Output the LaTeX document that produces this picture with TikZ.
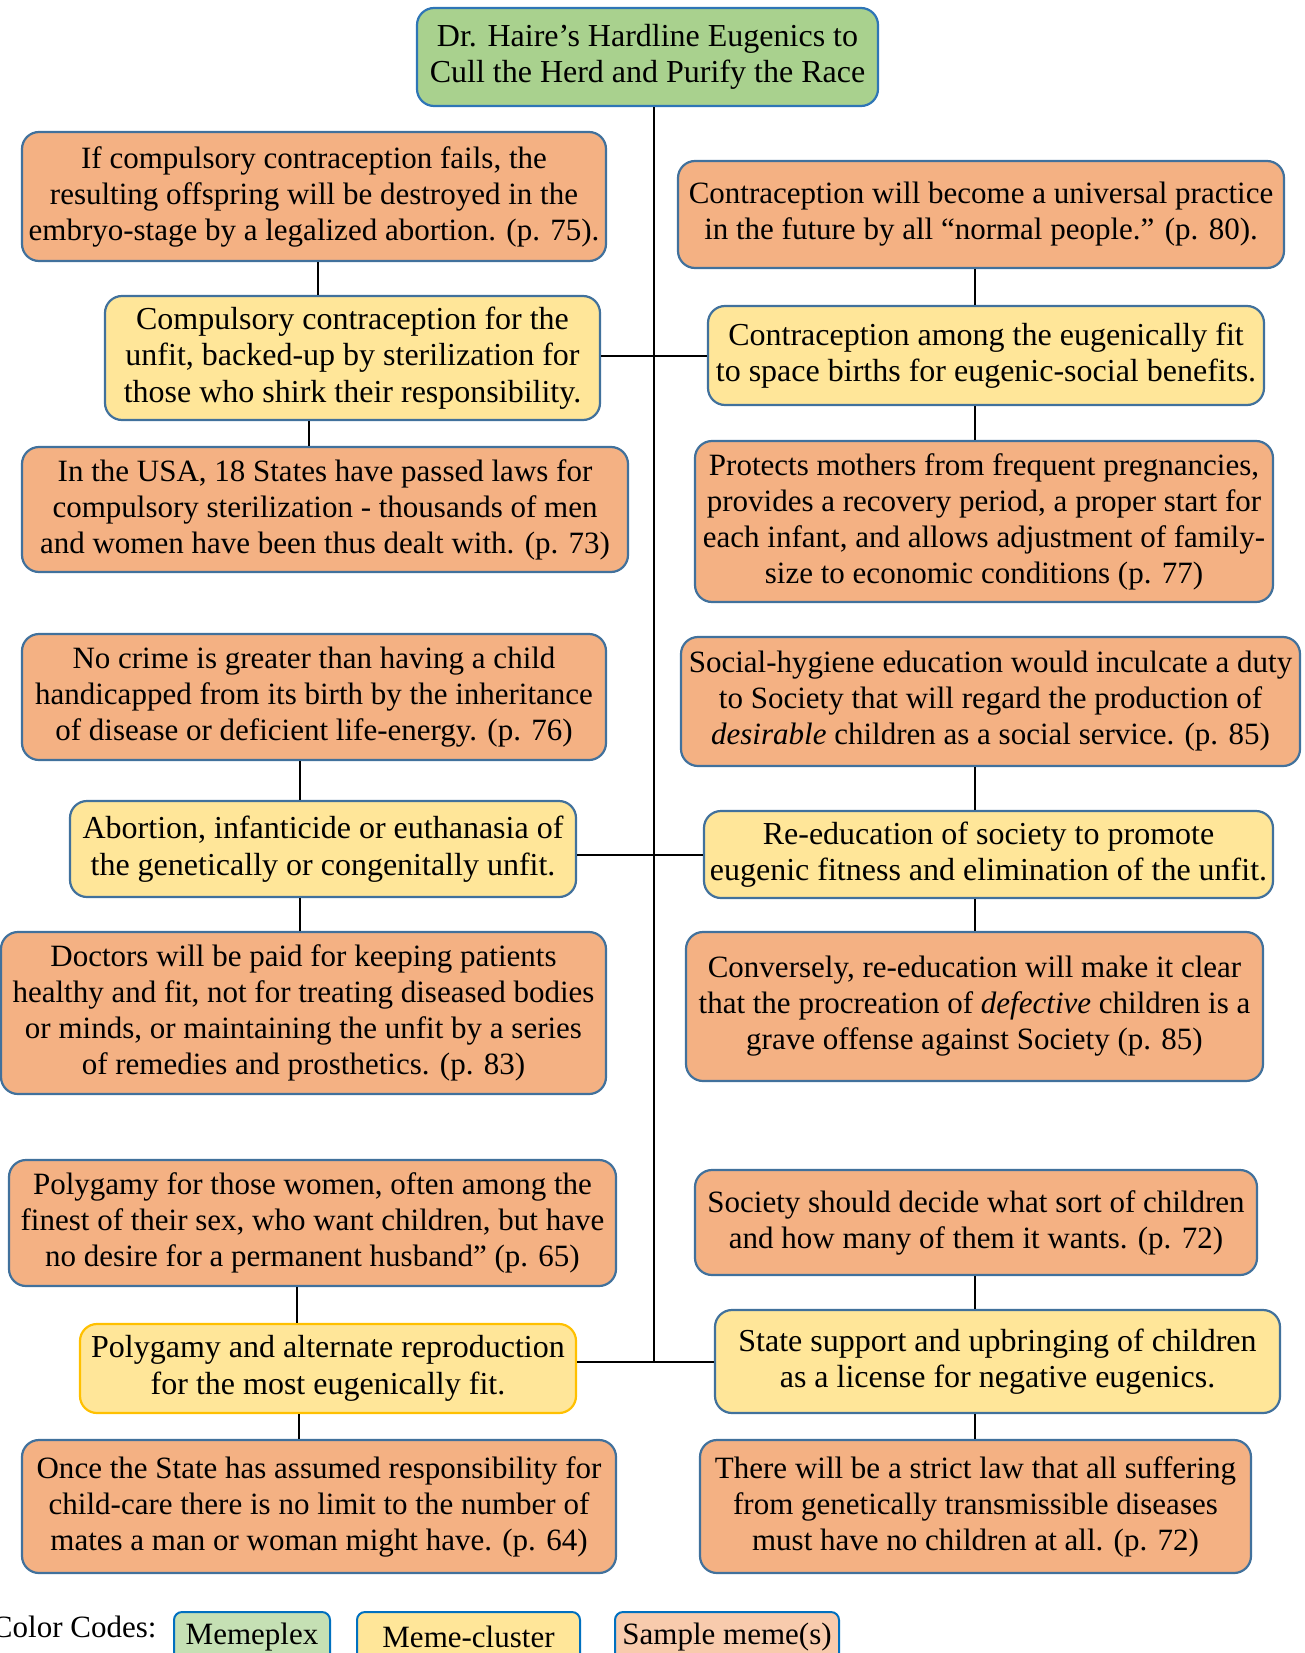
\documentclass[tikz,border=0pt]{standalone}
\usepackage{fontspec}
\setmainfont{Liberation Serif}
\definecolor{plexfill}{HTML}{A9D18E}
\definecolor{clusterfill}{HTML}{FFE699}
\definecolor{memefill}{HTML}{F4B183}
\definecolor{edgeblue}{HTML}{41719C}
\definecolor{plexedge}{HTML}{2E75B6}
\definecolor{goldedge}{HTML}{FFC000}
\definecolor{keyblue}{HTML}{0070C0}
\definecolor{keygreen}{HTML}{C5E0B4}
\definecolor{keymeme}{HTML}{F8CBAD}
\tikzset{
  box/.style={draw=edgeblue, line width=2.2pt, rounded corners=17pt, align=center,
    inner sep=0pt},
  plex/.style={box, fill=plexfill, draw=plexedge, font=\fontsize{32}{36.5}\selectfont},
  cluster/.style={box, fill=clusterfill, font=\fontsize{32}{36.5}\selectfont},
  meme/.style={box, fill=memefill, font=\fontsize{31}{36}\selectfont},
  keybox/.style={draw=keyblue, line width=2pt, rounded corners=8pt, inner sep=0pt,
    font=\fontsize{31}{34}\selectfont},
  link/.style={line width=2pt, black},
}
\begin{document}
\begin{tikzpicture}[x=1pt, y=-1pt]
\useasboundingbox (0,0) rectangle (1304,1653);

% memeplex
\node[plex, minimum width=461pt, minimum height=98pt] (top) at (647.5,57)
  {Dr. Haire’s Hardline Eugenics to\\Cull the Herd and Purify the Race};

% left column
\node[meme, minimum width=584pt, minimum height=129pt] (L1) at (314,196.5)
  {If compulsory contraception fails, the\\resulting offspring will be destroyed in the\\embryo-stage by a legalized abortion. (p. 75).};
\node[cluster, minimum width=495pt, minimum height=124pt] (L2) at (352.5,358)
  {Compulsory contraception for the\\unfit, backed-up by sterilization for\\those who shirk their responsibility.};
\node[meme, minimum width=606pt, minimum height=125pt] (L3) at (325,509.5)
  {In the USA, 18 States have passed laws for\\compulsory sterilization - thousands of men\\and women have been thus dealt with. (p. 73)};
\node[meme, minimum width=584pt, minimum height=126pt] (L4) at (314,697)
  {No crime is greater than having a child\\handicapped from its birth by the inheritance\\of disease or deficient life-energy. (p. 76)};
\node[cluster, minimum width=506pt, minimum height=96pt] (L5) at (323,849)
  {Abortion, infanticide or euthanasia of\\the genetically or congenitally unfit.};
\node[meme, minimum width=605pt, minimum height=162pt] (L6) at (303.5,1013)
  {Doctors will be paid for keeping patients\\healthy and fit, not for treating diseased bodies\\or minds, or maintaining the unfit by a series\\of remedies and prosthetics. (p. 83)};
\node[meme, minimum width=607pt, minimum height=126pt] (L7) at (312.5,1223)
  {Polygamy for those women, often among the\\finest of their sex, who want children, but have\\no desire for a permanent husband” (p. 65)};
\node[cluster, draw=goldedge, minimum width=496pt, minimum height=89pt] (L8) at (328,1368.5)
  {Polygamy and alternate reproduction\\for the most eugenically fit.};
\node[meme, minimum width=594pt, minimum height=133pt] (L9) at (319,1506.5)
  {Once the State has assumed responsibility for\\child-care there is no limit to the number of\\mates a man or woman might have. (p. 64)};

% right column
\node[meme, minimum width=606pt, minimum height=107pt] (R1) at (981,214.5)
  {Contraception will become a universal practice\\in the future by all “normal people.” (p. 80).};
\node[cluster, minimum width=556pt, minimum height=99pt] (R2) at (986,355.5)
  {Contraception among the eugenically fit\\to space births for eugenic-social benefits.};
\node[meme, minimum width=578pt, minimum height=161pt] (R3) at (984,521.5)
  {Protects mothers from frequent pregnancies,\\provides a recovery period, a proper start for\\each infant, and allows adjustment of family-\\size to economic conditions (p. 77)};
\node[meme, minimum width=619pt, minimum height=129pt] (R4) at (990.5,701.5)
  {Social-hygiene education would inculcate a duty\\to Society that will regard the production of\\\textit{desirable} children as a social service. (p. 85)};
\node[cluster, minimum width=569pt, minimum height=87pt] (R5) at (988.5,854.5)
  {Re-education of society to promote\\eugenic fitness and elimination of the unfit.};
\node[meme, minimum width=577pt, minimum height=149pt] (R6) at (974.5,1006.5)
  {Conversely, re-education will make it clear\\that the procreation of \textit{defective} children is a\\grave offense against Society (p. 85)};
\node[meme, minimum width=562pt, minimum height=105pt] (R7) at (976,1222.5)
  {Society should decide what sort of children\\and how many of them it wants. (p. 72)};
\node[cluster, minimum width=565pt, minimum height=103pt] (R8) at (997.5,1361.5)
  {State support and upbringing of children\\as a license for negative eugenics.};
\node[meme, minimum width=551pt, minimum height=133pt] (R9) at (975.5,1506.5)
  {There will be a strict law that all suffering\\from genetically transmissible diseases\\must have no children at all. (p. 72)};

% colour key
\node[anchor=east, font=\fontsize{31}{34}\selectfont] (keylabel) at (160,1627) {Color Codes:};
\node[keybox, fill=keygreen, minimum width=156pt, minimum height=50pt, anchor=north west] (k1) at (173,1611) {Memeplex};
\node[keybox, fill=clusterfill, minimum width=223pt, minimum height=50pt, anchor=north west] (k2) at (356,1611) {Meme-cluster};
\node[keybox, fill=keymeme, minimum width=224pt, minimum height=50pt, anchor=north west] (k3) at (614,1611) {Sample meme(s)};

% connector columns
\coordinate (spine) at (654,0);
\coordinate (xa) at (318,0);
\coordinate (xb) at (309,0);
\coordinate (xc) at (300,0);
\coordinate (xd) at (297,0);
\coordinate (xe) at (299,0);
\coordinate (xr) at (975,0);

% spine and cross bars
\draw[link] (spine |- top.south) -- (spine |- R8.west);
\draw[link] (R2.west -| L2.east) -- (R2.west);
\draw[link] (R5.west -| L5.east) -- (R5.west);
\draw[link] (R8.west -| L8.east) -- (R8.west);

% left links
\draw[link] (xa |- L1.south) -- (xa |- L2.north);
\draw[link] (xb |- L2.south) -- (xb |- L3.north);
\draw[link] (xc |- L4.south) -- (xc |- L5.north);
\draw[link] (xc |- L5.south) -- (xc |- L6.north);
\draw[link] (xd |- L7.south) -- (xd |- L8.north);
\draw[link] (xe |- L8.south) -- (xe |- L9.north);

% right links
\draw[link] (xr |- R1.south) -- (xr |- R2.north);
\draw[link] (xr |- R2.south) -- (xr |- R3.north);
\draw[link] (xr |- R4.south) -- (xr |- R5.north);
\draw[link] (xr |- R5.south) -- (xr |- R6.north);
\draw[link] (xr |- R7.south) -- (xr |- R8.north);
\draw[link] (xr |- R8.south) -- (xr |- R9.north);
\end{tikzpicture}
\end{document}
